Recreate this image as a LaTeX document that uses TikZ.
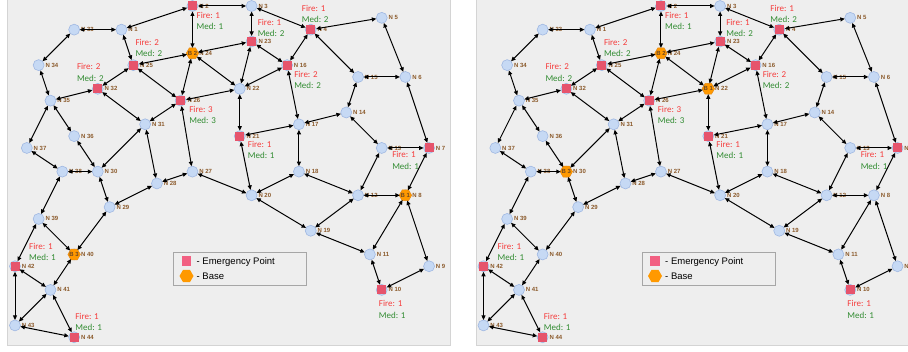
\documentclass[tikz,border=0pt]{standalone}
\usepackage{fontspec}
\setsansfont{Liberation Sans}
\newfontfamily\calfont{Carlito}
\usetikzlibrary{arrows.meta,shapes.geometric}

\definecolor{panelbg}{RGB}{238,238,238}
\definecolor{panelline}{RGB}{212,212,212}
\definecolor{ptfill}{RGB}{198,217,244}
\definecolor{ptline}{RGB}{160,184,226}
\definecolor{emfill}{RGB}{230,84,108}
\definecolor{legfill}{RGB}{242,96,130}
\definecolor{basefill}{RGB}{255,153,0}
\definecolor{baseline}{RGB}{235,140,20}
\definecolor{nbrown}{RGB}{139,90,43}
\definecolor{firered}{RGB}{245,60,60}
\definecolor{medgreen}{RGB}{50,140,50}

\tikzset{
  pt/.style={circle,draw=ptline,fill=ptfill,line width=0.6pt,minimum size=11pt,inner sep=0pt,outer sep=0pt},
  nlab/.style={font=\sffamily\bfseries\fontsize{6}{7}\selectfont,text=nbrown,inner sep=0pt,label distance=1.2pt},
  emsq/.style={rectangle,fill=emfill,minimum size=9pt,inner sep=0pt},
  basehex/.style={regular polygon,regular polygon sides=6,draw=baseline,fill=basefill,line width=0.5pt,minimum size=12.5pt,inner sep=0pt},
  btxt/.style={font=\sffamily\bfseries\fontsize{6}{7}\selectfont,text=nbrown!80!black,inner sep=0pt},
  fmlab/.style={font=\calfont\fontsize{9}{11.3}\selectfont,align=left,inner sep=0pt,anchor=west},
  conn/.style={{Triangle[length=4.5pt,width=4pt]}-{Triangle[length=4.5pt,width=4pt]},line width=1pt,black},
  legtxt/.style={font=\sffamily\fontsize{9.5}{11}\selectfont,inner sep=0pt,anchor=west}
}

% node number / grid column / grid row
\newcommand\nodelist{1/9/2, 2/15/0, 3/20/0, 4/25/2, 5/31/1, 6/33/6, 7/35/12, 8/33/16,
  9/35/22, 10/31/24, 11/30/21, 12/29/16, 13/31/12, 14/28/9, 15/29/6, 16/23/5,
  17/24/10, 18/24/14, 19/25/19, 20/20/16, 21/19/11, 22/19/7, 23/20/3, 24/15/4,
  25/10/5, 26/14/8, 27/15/14, 28/12/15, 29/8/17, 30/7/14, 31/11/10, 32/7/7,
  33/5/2, 34/2/5, 35/3/8, 36/5/11, 37/1/12, 38/4/14, 39/2/18, 40/5/21,
  41/3/24, 42/0/22, 43/0/27, 44/5/28}
\newcommand\edgelist{33/1, 1/25, 1/2, 2/3, 2/24, 33/34, 34/35, 25/24, 25/32, 25/26,
  24/26, 24/22, 24/23, 26/22, 32/35, 32/31, 26/31, 26/27, 35/37, 35/36, 36/30,
  37/38, 38/30, 30/31, 31/28, 28/27, 27/20, 28/29, 30/29, 38/39, 29/40, 39/40,
  39/42, 42/41, 40/41, 42/43, 41/43, 41/44, 43/44, 3/23, 3/4, 4/5, 4/16, 4/15,
  23/16, 23/22, 22/16, 22/21, 16/17, 15/6, 15/14, 5/6, 6/7, 14/17, 14/13, 13/7,
  17/21, 17/18, 21/20, 18/20, 18/12, 20/19, 12/19, 13/12, 7/8, 12/8, 8/11, 8/9,
  11/19, 11/10, 10/9}
% node / fire / med / dx / dy of the text
\newcommand\emlist{2/1/1/4/9, 25/2/2/2/-23, 32/2/2/-21/-22, 26/3/3/8.5/9,
  4/1/2/-9/-21, 23/1/2/6/-19, 16/2/2/7/9, 21/1/1/8/8.5, 7/1/1/-37/7,
  42/1/1/14/-20, 44/1/1/1/-21, 10/1/1/-3/14}

\newcommand\drawnet[2]{%
  \foreach \n/\i/\j in \nodelist
    \node[pt,label={[nlab]right:N \n}] (#1\n) at ({15+11.83*\i},{6+11.83*\j}) {};
  \foreach \n/\f/\m/\dx/\dy in \emlist {
    \node[emsq] (#1s\n) at (#1\n) {};
    \node[fmlab] (#1f\n) at ([shift={(\dx,{\dy+5.6})}]#1\n)
      {\textcolor{firered}{Fire: \f}\\\textcolor{medgreen}{Med: \m}};
  }
  \foreach \n/\k in {#2}
    \node[basehex,label={[btxt]center:B \k}] (#1b\n) at (#1\n) {};
  \foreach \a/\b in \edgelist
    \draw[conn] (#1\a) -- (#1\b);
  % legend
  \node[draw=gray!70,line width=0.9pt,minimum width=133pt,minimum height=33pt,
    inner sep=0pt,anchor=north west] (#1leg) at (173,252) {};
  \node[rectangle,fill=legfill,minimum size=9.5pt,inner sep=0pt] (#1legsq) at (186.5,261) {};
  \node[basehex,draw=none,minimum size=14pt] (#1leghex) at (186.5,276) {};
  \node[legtxt] (#1legem) at (196.5,262) {- Emergency Point};
  \node[legtxt] (#1legbase) at (196.5,276.5) {- Base};
}

\begin{document}
\begin{tikzpicture}[x=1pt,y=-1pt]
  \useasboundingbox (0,0) rectangle (908,352);
  \clip (0,0) rectangle (908,352);
  \fill[white] (0,0) rectangle (908,352);
  \filldraw[fill=panelbg,draw=panelline,line width=1pt] (7,-5) rectangle (450.5,345.5);
  \filldraw[fill=panelbg,draw=panelline,line width=1pt] (476.5,-5) rectangle (930,345.5);

  \drawnet{l}{8/1,24/2,40/3}
  \begin{scope}[shift={(468.5,0)}]
    \drawnet{r}{22/1,24/2,30/3}
  \end{scope}
\end{tikzpicture}
\end{document}
